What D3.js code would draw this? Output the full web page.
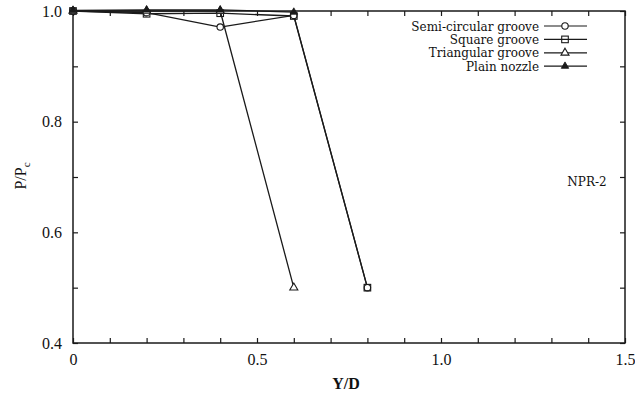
<!DOCTYPE html>
<html>
<head>
<meta charset="utf-8">
<script src="https://cdn.jsdelivr.net/npm/d3@7"></script>
<style>
  body { margin: 0; background: #fff; }
  svg { display: block; }
  text { font-family: "Liberation Serif", "DejaVu Serif", serif; fill: #111; }
</style>
</head>
<body>
<div id="content"></div>
<script>
// values (Y/D vs P/Pc, NPR-2)
var semiX = [0, 0.2, 0.4, 0.6, 0.8];
var semiY = [1.0, 0.997, 0.971, 0.992, 0.5];
var squareX = [0, 0.2, 0.4, 0.6, 0.8];
var squareY = [1.0, 0.995, 0.996, 0.991, 0.5];
var triX = [0, 0.2, 0.4, 0.6];
var triY = [1.0, 1.0, 1.0, 0.5];
var plainX = [0, 0.2, 0.4, 0.6];
var plainY = [1.001, 1.002, 1.002, 0.998];

var xTicks = [0, 0.1, 0.2, 0.3, 0.4, 0.5, 0.6, 0.7, 0.8, 0.9, 1.0, 1.1, 1.2, 1.3, 1.4, 1.5];
var xLabels = {"0": "0", "0.5": "0.5", "1": "1.0", "1.5": "1.5"};
var yTicks = [0.4, 0.5, 0.6, 0.7, 0.8, 0.9, 1.0];
var yLabels = {"0.4": "0.4", "0.6": "0.6", "0.8": "0.8", "1": "1.0"};

var seriesNames = ["Semi-circular groove", "Square groove", "Triangular groove", "Plain nozzle"];
var seriesSymbols = ["circle", "square", "triangle", "filledTriangle"];

var width = 635, height = 396;
var margin = {top: 11, right: 10, bottom: 53, left: 73};
var w = width - margin.left - margin.right;
var h = height - margin.top - margin.bottom;
var ink = "#1a1a1a";

var svg = d3.select("#content").append("svg")
  .attr("width", width)
  .attr("height", height);

var g = svg.append("g")
  .attr("transform", "translate(" + margin.left + "," + margin.top + ")");

var x_scale = d3.scaleLinear().domain([0, 1.5]).range([0, w]);
var y_scale = d3.scaleLinear().domain([0.4, 1.0]).range([h, 0]);

function styleAxis(sel) {
  sel.select(".domain").remove();
  sel.selectAll("line").attr("stroke", ink).attr("stroke-width", 1.2);
  sel.selectAll("text").style("font-size", "16px").attr("fill", ink);
}

// bottom + top
g.append("g")
  .attr("transform", "translate(0," + h + ")")
  .call(d3.axisBottom(x_scale).tickValues(xTicks).tickSize(-5).tickPadding(11)
    .tickFormat(function(d) { return xLabels[String(+d.toFixed(1))] || ""; }))
  .call(styleAxis);
g.append("g")
  .call(d3.axisTop(x_scale).tickValues(xTicks).tickSize(-5).tickFormat(""))
  .call(styleAxis);

// left + right
g.append("g")
  .call(d3.axisLeft(y_scale).tickValues(yTicks).tickSize(-5).tickPadding(11)
    .tickFormat(function(d) { return yLabels[String(+d.toFixed(1))] || ""; }))
  .call(styleAxis);
g.append("g")
  .attr("transform", "translate(" + w + ",0)")
  .call(d3.axisRight(y_scale).tickValues(yTicks).tickSize(-5).tickFormat(""))
  .call(styleAxis);

g.append("rect")
  .attr("width", w).attr("height", h)
  .attr("fill", "none").attr("stroke", ink).attr("stroke-width", 1.5);

// axis titles
svg.append("text")
  .attr("x", 346).attr("y", 389)
  .attr("text-anchor", "middle")
  .style("font-size", "16px").style("font-weight", "bold")
  .text("Y/D");

var yl = svg.append("text")
  .attr("transform", "translate(26,176) rotate(-90)")
  .attr("text-anchor", "middle")
  .style("font-size", "16px");
yl.append("tspan").text("P/P");
yl.append("tspan").attr("dy", 4).style("font-size", "11px").text("c");

svg.append("text")
  .attr("x", 587).attr("y", 186)
  .attr("text-anchor", "middle")
  .style("font-family", "'DejaVu Serif', serif")
  .style("font-size", "12px")
  .text("NPR-2");

// markers
function drawMarker(sel, type, cx, cy) {
  if (type === "circle") {
    sel.append("circle").attr("cx", cx).attr("cy", cy).attr("r", 3.2)
      .attr("fill", "#fff").attr("stroke", ink).attr("stroke-width", 1.1);
  } else if (type === "square") {
    sel.append("rect").attr("x", cx - 3.3).attr("y", cy - 3.3).attr("width", 6.6).attr("height", 6.6)
      .attr("fill", "none").attr("stroke", ink).attr("stroke-width", 1.1);
  } else if (type === "triangle") {
    sel.append("path").attr("d", d3.symbol(d3.symbolTriangle, 28)())
      .attr("transform", "translate(" + cx + "," + cy + ")")
      .attr("fill", "#fff").attr("stroke", ink).attr("stroke-width", 1.1);
  } else {
    sel.append("path").attr("d", d3.symbol(d3.symbolTriangle, 24)())
      .attr("transform", "translate(" + cx + "," + cy + ")")
      .attr("fill", ink).attr("stroke", ink).attr("stroke-width", 0.8);
  }
}

var line = d3.line()
  .x(function(d) { return x_scale(d[0]); })
  .y(function(d) { return y_scale(d[1]); });

var allSeries = [
  d3.zip(semiX, semiY),
  d3.zip(squareX, squareY),
  d3.zip(triX, triY),
  d3.zip(plainX, plainY)
];

allSeries.forEach(function(pts, i) {
  g.append("path")
    .datum(pts)
    .attr("d", line)
    .attr("fill", "none")
    .attr("stroke", ink)
    .attr("stroke-width", 1.3);
});
allSeries.forEach(function(pts, i) {
  var mg = g.append("g");
  pts.forEach(function(p) {
    drawMarker(mg, seriesSymbols[i], x_scale(p[0]), y_scale(p[1]));
  });
});

// legend
var legend = svg.append("g");
seriesNames.forEach(function(name, i) {
  var ly = 26 + i * 13.4;
  legend.append("text")
    .attr("x", 539).attr("y", ly + 4.5)
    .attr("text-anchor", "end")
    .style("font-family", "'DejaVu Serif', serif")
    .style("font-size", "12px")
    .text(name);
  legend.append("line")
    .attr("x1", 544).attr("x2", 587).attr("y1", ly).attr("y2", ly)
    .attr("stroke", ink).attr("stroke-width", 1.2);
  drawMarker(legend, seriesSymbols[i], 565, ly);
});
</script>
</body>
</html>
